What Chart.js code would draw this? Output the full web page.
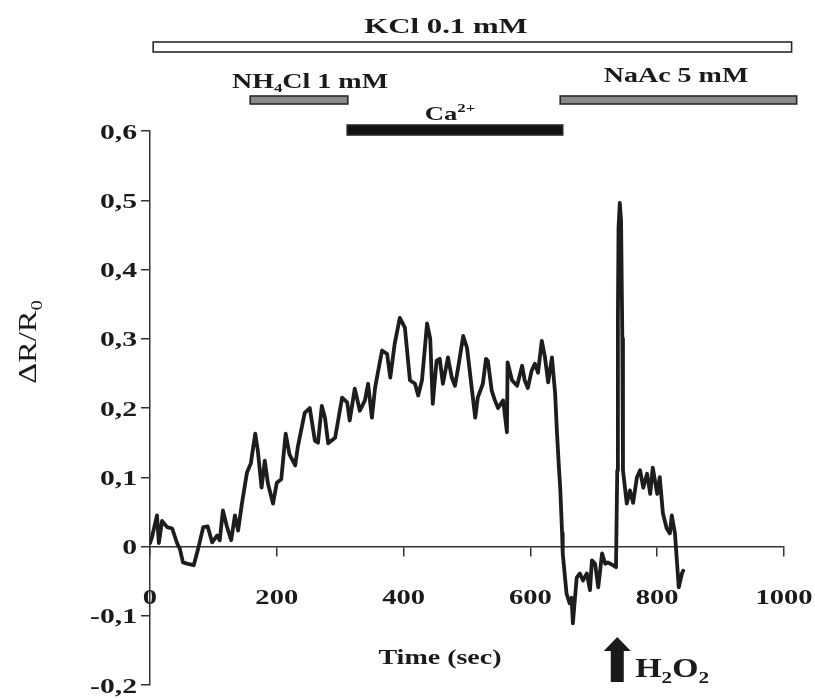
<!DOCTYPE html>
<html>
<head>
<meta charset="utf-8">
<script src="https://cdn.jsdelivr.net/npm/chart.js@4"></script>
<style>
    html, body { margin: 0; padding: 0; background: #fff; }
    canvas { display: block; }
</style>
</head>
<body>
<canvas id="chart" width="815" height="699"></canvas>
<script>
// trace: time (s) and dR/R0
const timeSec = [0, 3, 11, 14, 19, 27, 35, 43, 47, 52, 60, 69, 76, 84, 91, 98, 106, 110, 115, 121,
    128, 134, 139, 145, 153, 159, 166, 170, 176, 181, 186, 194, 200, 207, 214, 220, 229, 233, 244, 252,
    260, 265, 271, 276, 281, 292, 303, 311, 315, 323, 331, 339, 344, 350, 355, 360, 366, 374, 379, 386,
    394, 402, 410, 418, 423, 429, 437, 442, 446, 452, 457, 462, 470, 476, 481, 486, 494, 500, 508, 513,
    517, 525, 530, 533, 539, 544, 549, 557, 563, 564, 571, 579, 587, 591, 596, 602, 607, 612, 618, 623,
    628, 634, 639, 642, 645, 647, 650, 651, 657, 662, 665, 667, 673, 678, 683, 689, 694, 697, 702, 707,
    713, 718, 722, 730, 735, 737, 738, 739, 741, 743, 745, 746, 752, 757, 762, 768, 773, 778, 784, 789,
    793, 800, 804, 809, 815, 820, 823, 828, 831, 834, 839, 841];
const deltaR = [0.005, 0.013, 0.045, 0.005, 0.037, 0.028, 0.026, 0.004, -0.003, -0.023, -0.025, -0.027, -0.003, 0.028, 0.029, 0.006, 0.016, 0.009, 0.052, 0.030,
    0.009, 0.045, 0.023, 0.062, 0.107, 0.120, 0.163, 0.139, 0.085, 0.124, 0.091, 0.062, 0.092, 0.097, 0.163, 0.133, 0.117, 0.143, 0.193, 0.200,
    0.153, 0.150, 0.203, 0.186, 0.149, 0.157, 0.215, 0.208, 0.182, 0.228, 0.196, 0.211, 0.235, 0.186, 0.229, 0.254, 0.283, 0.278, 0.244, 0.293,
    0.330, 0.316, 0.240, 0.235, 0.218, 0.240, 0.322, 0.300, 0.206, 0.268, 0.271, 0.235, 0.273, 0.244, 0.232, 0.258, 0.304, 0.287, 0.225, 0.186,
    0.215, 0.235, 0.271, 0.268, 0.225, 0.211, 0.200, 0.211, 0.165, 0.266, 0.240, 0.232, 0.261, 0.240, 0.229, 0.254, 0.264, 0.251, 0.297, 0.273,
    0.237, 0.273, 0.221, 0.163, 0.114, 0.085, 0.019, -0.010, -0.068, -0.082, -0.074, -0.111, -0.045, -0.039, -0.049, -0.039, -0.063, -0.020, -0.025, -0.059,
    -0.010, -0.025, -0.023, -0.027, -0.030, 0.110, 0.330, 0.460, 0.496, 0.470, 0.300, 0.110, 0.062, 0.081, 0.063, 0.100, 0.110, 0.085, 0.105, 0.076,
    0.114, 0.076, 0.100, 0.048, 0.026, 0.019, 0.045, 0.019, -0.020, -0.059, -0.039, -0.035];

const xTickValues = [0, 200, 400, 600, 800, 1000];
const xTickLabels = ['0', '200', '400', '600', '800', '1000'];
const yTickValues = [-0.2, -0.1, 0, 0.1, 0.2, 0.3, 0.4, 0.5, 0.6];
const yTickLabels = ['-0,2', '-0,1', '0', '0,1', '0,2', '0,3', '0,4', '0,5', '0,6'];

// treatment bars above the trace (seconds)
const barNames = ['KCl', 'NH4Cl', 'Ca', 'NaAc'];
const barStart = [5, 158, 311, 647];
const barEnd = [1012, 312, 651, 1020];
const h2o2Time = 737;

const FONT = '"Liberation Serif", "Times New Roman", serif';
const SX = 1.4; // the figure's text is stretched sideways

// parts: [text, '' | 'sub' | 'sup']
function drawRich(ctx, parts, x, y, size, weight, align, sx) {
    ctx.save();
    ctx.translate(x, y);
    ctx.scale(sx, 1);
    const fontOf = p => `${weight} ${p[1] ? Math.round(size * 0.62) : size}px ${FONT}`;
    const widths = parts.map(p => { ctx.font = fontOf(p); return ctx.measureText(p[0]).width; });
    const total = widths.reduce((a, b) => a + b, 0);
    let cx = align === 'center' ? -total / 2 : (align === 'right' ? -total : 0);
    ctx.textAlign = 'left';
    ctx.textBaseline = 'alphabetic';
    parts.forEach((p, i) => {
        ctx.font = fontOf(p);
        const dy = p[1] === 'sub' ? size * 0.22 : (p[1] === 'sup' ? -size * 0.42 : 0);
        ctx.fillText(p[0], cx, dy);
        cx += widths[i];
    });
    ctx.restore();
}

const decorations = {
    id: 'decorations',
    afterDraw(chart) {
        const ctx = chart.ctx;
        const xs = chart.scales.x;
        const ys = chart.scales.y;
        const y0 = ys.getPixelForValue(0);
        ctx.save();
        ctx.fillStyle = '#1a1a1a';

        // tick labels
        xTickValues.forEach((v, i) => {
            drawRich(ctx, [[xTickLabels[i], '']], xs.getPixelForValue(v), y0 + 57, 22, 'bold', 'center', 1.3);
        });
        yTickValues.forEach((v, i) => {
            drawRich(ctx, [[yTickLabels[i], '']], 137, ys.getPixelForValue(v) + 7.5, 22, 'bold', 'right', 1.35);
        });

        // axis titles
        drawRich(ctx, [['Time (sec)', '']], 440, 664, 20, 'bold', 'center', SX);
        ctx.save();
        ctx.translate(36, 342);
        ctx.rotate(-Math.PI / 2);
        drawRich(ctx, [['\u0394R/R', ''], ['0', 'sub']], 0, 0, 25, 'normal', 'center', 1.3);
        ctx.restore();

        // treatment bars
        const px = i => [xs.getPixelForValue(barStart[i]), xs.getPixelForValue(barEnd[i])];
        const box = (i, top, h, fill) => {
            const [a, b] = px(i);
            ctx.fillStyle = fill;
            ctx.fillRect(a, top, b - a, h);
            ctx.lineWidth = 1.6;
            ctx.strokeStyle = '#2a2a2a';
            ctx.strokeRect(a, top, b - a, h);
        };
        box(0, 42, 10, '#ffffff');
        box(1, 96, 8, '#8a8a8a');
        box(3, 96, 8, '#8a8a8a');
        box(2, 125, 10, '#111111');

        ctx.fillStyle = '#1a1a1a';
        drawRich(ctx, [['KCl 0.1 mM', '']], 446, 33, 22, 'bold', 'center', SX);
        drawRich(ctx, [['NH', ''], ['4', 'sub'], ['Cl 1 mM', '']], 310, 88, 20, 'bold', 'center', SX);
        drawRich(ctx, [['Ca', ''], ['2+', 'sup']], 450, 120, 19, 'bold', 'center', SX);
        drawRich(ctx, [['NaAc 5 mM', '']], 676, 82, 20, 'bold', 'center', SX);

        // H2O2 arrow
        const ax = xs.getPixelForValue(h2o2Time);
        ctx.beginPath();
        ctx.moveTo(ax, 637);
        ctx.lineTo(ax + 13.5, 651);
        ctx.lineTo(ax + 6.5, 651);
        ctx.lineTo(ax + 6.5, 682);
        ctx.lineTo(ax - 6.5, 682);
        ctx.lineTo(ax - 6.5, 651);
        ctx.lineTo(ax - 13.5, 651);
        ctx.closePath();
        ctx.fill();
        drawRich(ctx, [['H', ''], ['2', 'sub'], ['O', ''], ['2', 'sub']], ax + 18, 677, 27, 'bold', 'left', 1.25);

        ctx.restore();
    }
};

const axisGrid = {
    drawOnChartArea: false,
    drawTicks: true,
    tickLength: 9,
    color: '#333',
    lineWidth: 1.5
};

new Chart(document.getElementById('chart'), {
    type: 'line',
    data: {
        datasets: [{
            data: timeSec.map((t, i) => ({x: t, y: deltaR[i]})),
            borderColor: '#1e1c1c',
            borderWidth: 3.8,
            borderJoinStyle: 'round',
            borderCapStyle: 'round',
            pointRadius: 0,
            tension: 0,
            fill: false
        }]
    },
    options: {
        responsive: false,
        animation: false,
        devicePixelRatio: 1,
        layout: {padding: {top: 131, bottom: 14, left: 0, right: 31}},
        plugins: {legend: {display: false}, tooltip: {enabled: false}},
        scales: {
            x: {
                type: 'linear',
                min: 0,
                max: 1000,
                position: {y: 0},
                afterBuildTicks: s => { s.ticks = xTickValues.map(v => ({value: v})); },
                ticks: {display: false},
                grid: axisGrid,
                border: {display: true, color: '#333', width: 1.5}
            },
            y: {
                min: -0.2,
                max: 0.6,
                afterBuildTicks: s => { s.ticks = yTickValues.map(v => ({value: v})); },
                ticks: {display: false},
                grid: axisGrid,
                border: {display: true, color: '#333', width: 1.5},
                afterFit: s => { s.width = 150; }
            }
        }
    },
    plugins: [decorations]
});
</script>
</body>
</html>
